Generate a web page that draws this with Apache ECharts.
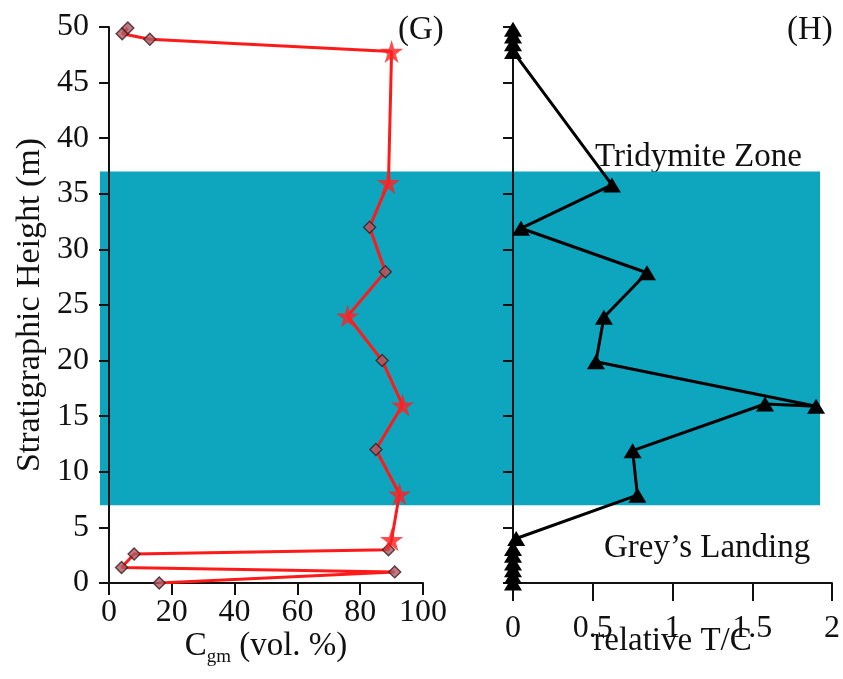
<!DOCTYPE html>
<html><head><meta charset="utf-8">
<script src="https://cdn.jsdelivr.net/npm/echarts@6/dist/echarts.min.js"></script>
<style>html,body{margin:0;padding:0;background:#fff}#c{width:843px;height:679px}</style>
</head><body><div id="c"></div>
<script>
// ---- data ----
const heightRange = [0, 50];          // Stratigraphic height (m)
const tridymiteZone = [7, 37];        // shaded zone (m)
const cgmDiamonds = [[16,0],[91,1],[4,1.4],[8,2.6],[89,3],[85,12],[87,20],[88,28],[83,32],[13,48.9],[4.2,49.4],[6,49.9]];
const cgmStars = [[90,3.9],[92.5,8],[93.5,16],[76,24],[89,36],[90,47.8]];
const tcPath = [[0,0],[0,0.6],[0,1.2],[0,1.8],[0,2.5],[0,3.1],[0.02,4],[0.78,7.9],[0.75,11.9],[1.58,16.1],[1.9,15.9],[0.52,19.9],[0.57,23.9],[0.84,27.9],[0.05,31.9],[0.62,35.8],[0,47.8],[0,48.5],[0,49.2],[0,49.8]];
const panelLabels = ['(G)', '(H)'];
const zoneLabels = ['Tridymite Zone', 'Grey\u2019s Landing'];

const cgmLine = cgmDiamonds.concat(cgmStars).sort((a,b)=>a[1]-b[1]);

const FONT = 'Liberation Serif';
const starPath = 'path://M50,0 L61,35 L98,35 L68,57 L79,91 L50,70 L21,91 L32,57 L2,35 L39,35 Z';
const axisCommon = {
  axisLine:{show:true, lineStyle:{color:'#111', width:2}},
  axisTick:{show:true, lineStyle:{color:'#111', width:2}},
  splitLine:{show:false},
  nameMoveOverlap:false
};

const chart = echarts.init(document.getElementById('c'));
chart.setOption({
  animation:false,
  backgroundColor:'#fff',
  textStyle:{fontFamily:FONT, color:'#111'},
  grid:[
    {left:100, right:23, top:27, bottom:96},
    {left:109, right:420, top:27, bottom:96},
    {left:513, right:11, top:27, bottom:96}
  ],
  xAxis:[
    {gridIndex:0, type:'value', min:0, max:1, show:false},
    Object.assign({gridIndex:1, type:'value', min:0, max:100, interval:20,
      axisLabel:{fontSize:32, fontFamily:FONT, color:'#111', margin:14},
      name:'{a|C}{b|gm}{a| (vol. %)}', nameLocation:'middle', nameGap:43,
      nameTextStyle:{rich:{a:{fontSize:33, fontFamily:FONT, color:'#111'}, b:{fontSize:19, fontFamily:FONT, color:'#111', padding:[22,0,0,0]}}}
    }, axisCommon, {axisTick:{show:true, length:12, lineStyle:{color:'#111', width:2}}}),
    Object.assign({gridIndex:2, type:'value', min:0, max:2, interval:0.5,
      axisLabel:{fontSize:32, fontFamily:FONT, color:'#111', margin:30},
      name:'relative T/C', nameLocation:'middle', nameGap:42,
      nameTextStyle:{fontSize:33, fontFamily:FONT, color:'#111'}
    }, axisCommon, {axisTick:{show:true, length:18, lineStyle:{color:'#111', width:2}}})
  ],
  yAxis:[
    {gridIndex:0, type:'value', min:heightRange[0], max:heightRange[1], show:false},
    Object.assign({gridIndex:1, type:'value', min:heightRange[0], max:heightRange[1], interval:5,
      axisLabel:{fontSize:32, fontFamily:FONT, color:'#111', margin:20},
      name:'Stratigraphic Height (m)', nameLocation:'middle', nameGap:62,
      nameTextStyle:{fontSize:34, fontFamily:FONT, color:'#111'}
    }, axisCommon, {axisTick:{show:true, length:10, lineStyle:{color:'#111', width:2}}}),
    Object.assign({gridIndex:2, type:'value', min:heightRange[0], max:heightRange[1], interval:5,
      axisLabel:{show:false}
    }, axisCommon, {axisTick:{show:true, length:10, lineStyle:{color:'#111', width:2}}})
  ],
  series:[
    {type:'custom', xAxisIndex:0, yAxisIndex:0, silent:true, z:0,
      data:[[0, tridymiteZone[0], 1, tridymiteZone[1]]],
      renderItem:function(params, api){
        const p0 = api.coord([api.value(0), api.value(3)]);
        const p1 = api.coord([api.value(2), api.value(1)]);
        return {type:'rect', shape:{x:p0[0], y:p0[1], width:p1[0]-p0[0], height:p1[1]-p0[1]},
          style:{fill:'#0ea5be'}};
      }},
    {type:'line', xAxisIndex:1, yAxisIndex:1, data:cgmLine, showSymbol:false, z:3,
      lineStyle:{color:'#ff1a1a', width:3}},
    {type:'scatter', xAxisIndex:1, yAxisIndex:1, data:cgmDiamonds, symbol:'diamond', symbolSize:12, z:4,
      itemStyle:{color:'#b05a62', borderColor:'#3a1a1e', borderWidth:1.4}},
    {type:'scatter', xAxisIndex:1, yAxisIndex:1, data:cgmStars, symbol:starPath, symbolSize:23, z:4,
      itemStyle:{color:'#ff2020'}},
    {type:'line', xAxisIndex:2, yAxisIndex:2, data:tcPath, symbol:'triangle', symbolSize:[18,15], z:3,
      lineStyle:{color:'#000', width:3}, itemStyle:{color:'#000', borderWidth:0}}
  ],
  graphic:[
    {type:'text', left:398, top:14, style:{text:panelLabels[0], font:'33px "Liberation Serif"', fill:'#111'}},
    {type:'text', left:787, top:14, style:{text:panelLabels[1], font:'33px "Liberation Serif"', fill:'#111'}},
    {type:'text', left:595, top:141, style:{text:zoneLabels[0], font:'33px "Liberation Serif"', fill:'#111'}},
    {type:'text', left:604, top:532, style:{text:zoneLabels[1], font:'33px "Liberation Serif"', fill:'#111'}}
  ]
});
</script></body></html>
